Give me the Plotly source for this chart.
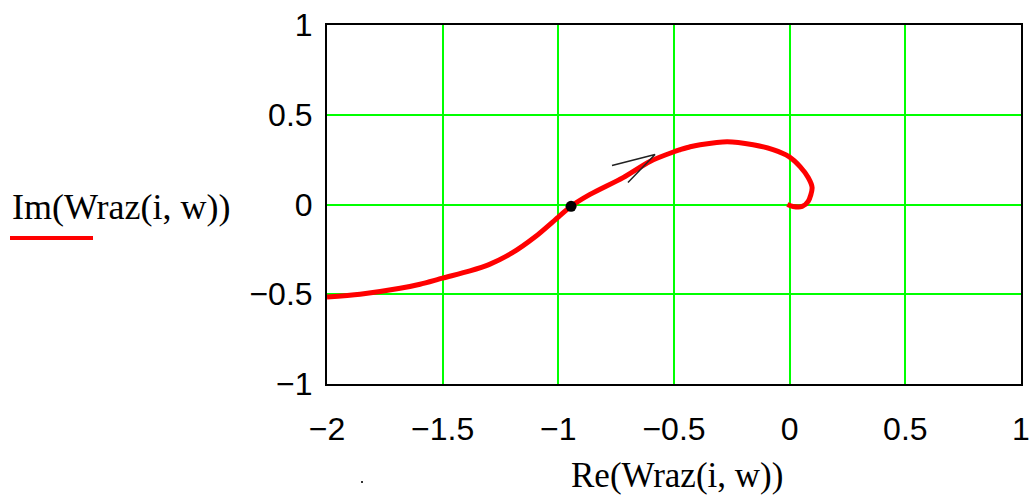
import plotly.graph_objects as go

# Nyquist-like curve: Re / Im of Wraz(i, w)
re_vals = [-2.0, -1.857, -1.684, -1.598, -1.5, -1.382, -1.3, -1.2, -1.1, -1.0,
           -0.945, -0.863, -0.72, -0.604, -0.5, -0.474, -0.43, -0.387, -0.27, -0.158,
           -0.072, -0.003, 0.045, 0.08, 0.097, 0.08, 0.054, 0.015, -0.01]
im_vals = [-0.515, -0.5, -0.467, -0.444, -0.41, -0.37, -0.335, -0.27, -0.18, -0.07,
           -0.01, 0.056, 0.15, 0.24, 0.294, 0.305, 0.322, 0.333, 0.35, 0.333,
           0.306, 0.267, 0.211, 0.15, 0.094, 0.017, -0.011, -0.011, 0.0]

# marked point (-1 crossing) and direction arrow
point_re = [-0.945]
point_im = [-0.01]
arrow_re = [-0.768, -0.582, -0.699]
arrow_im = [0.217, 0.278, 0.122]

x_ticks = [-2, -1.5, -1, -0.5, 0, 0.5, 1]
y_ticks = [-1, -0.5, 0, 0.5, 1]

x_title = "Re(Wraz(i, w))"
y_title = "Im(Wraz(i, w))"

fig = go.Figure()
fig.add_trace(go.Scatter(x=re_vals, y=im_vals, mode="lines",
                         line=dict(color="#ff0000", width=5, shape="spline", smoothing=0.8),
                         showlegend=False, hoverinfo="skip"))
fig.add_trace(go.Scatter(x=arrow_re, y=arrow_im, mode="lines",
                         line=dict(color="#222222", width=1.5), showlegend=False,
                         hoverinfo="skip"))
fig.add_trace(go.Scatter(x=point_re, y=point_im, mode="markers",
                         marker=dict(color="black", size=11), showlegend=False,
                         hoverinfo="skip"))

W, H = 1034, 495
L, R, T, B = 327, 13, 25, 111
pw, ph = W - L - R, H - T - B


def px(x):
    return (x - L) / pw


def py(y):
    return (H - B - y) / ph


tickfont = dict(family="Liberation Sans, Arial, sans-serif", size=32, color="black")


def fmt(v):
    return ("−" if v < 0 else "") + ("%g" % abs(v))


fig.update_layout(
    width=W, height=H,
    margin=dict(l=L, r=R, t=T, b=B, autoexpand=False),
    paper_bgcolor="white", plot_bgcolor="white",
    xaxis=dict(range=[-2, 1], tickvals=x_ticks, ticktext=[fmt(v) for v in x_ticks],
               showgrid=True, gridcolor="#00ff00", gridwidth=2, automargin=False,
               zeroline=False, showline=True, linecolor="black", linewidth=2,
               mirror=True, ticks="", tickfont=tickfont, ticklabelstandoff=16),
    yaxis=dict(range=[-1, 1], tickvals=y_ticks, ticktext=[fmt(v) for v in y_ticks],
               showgrid=True, gridcolor="#00ff00", gridwidth=2, automargin=False,
               zeroline=False, showline=True, linecolor="black", linewidth=2,
               mirror=True, ticks="", tickfont=tickfont, ticklabelstandoff=6),
    annotations=[
        dict(text=x_title, xref="paper", yref="paper", x=px(677), y=py(475),
             xanchor="center", yanchor="middle", showarrow=False,
             font=dict(family="Liberation Serif, Times New Roman, serif", size=35, color="black")),
        dict(text=y_title, xref="paper", yref="paper", x=px(10), y=py(207),
             xanchor="left", yanchor="middle", showarrow=False,
             font=dict(family="Liberation Serif, Times New Roman, serif", size=36, color="black")),
    ],
    shapes=[
        dict(type="line", xref="paper", yref="paper", x0=px(10), x1=px(93),
             y0=py(238), y1=py(238), line=dict(color="#ff0000", width=4)),
        dict(type="rect", xref="paper", yref="paper", x0=px(361), x1=px(363),
             y0=py(483), y1=py(481), line=dict(width=0), fillcolor="#333333"),
    ],
)

fig.write_html("out.html")
